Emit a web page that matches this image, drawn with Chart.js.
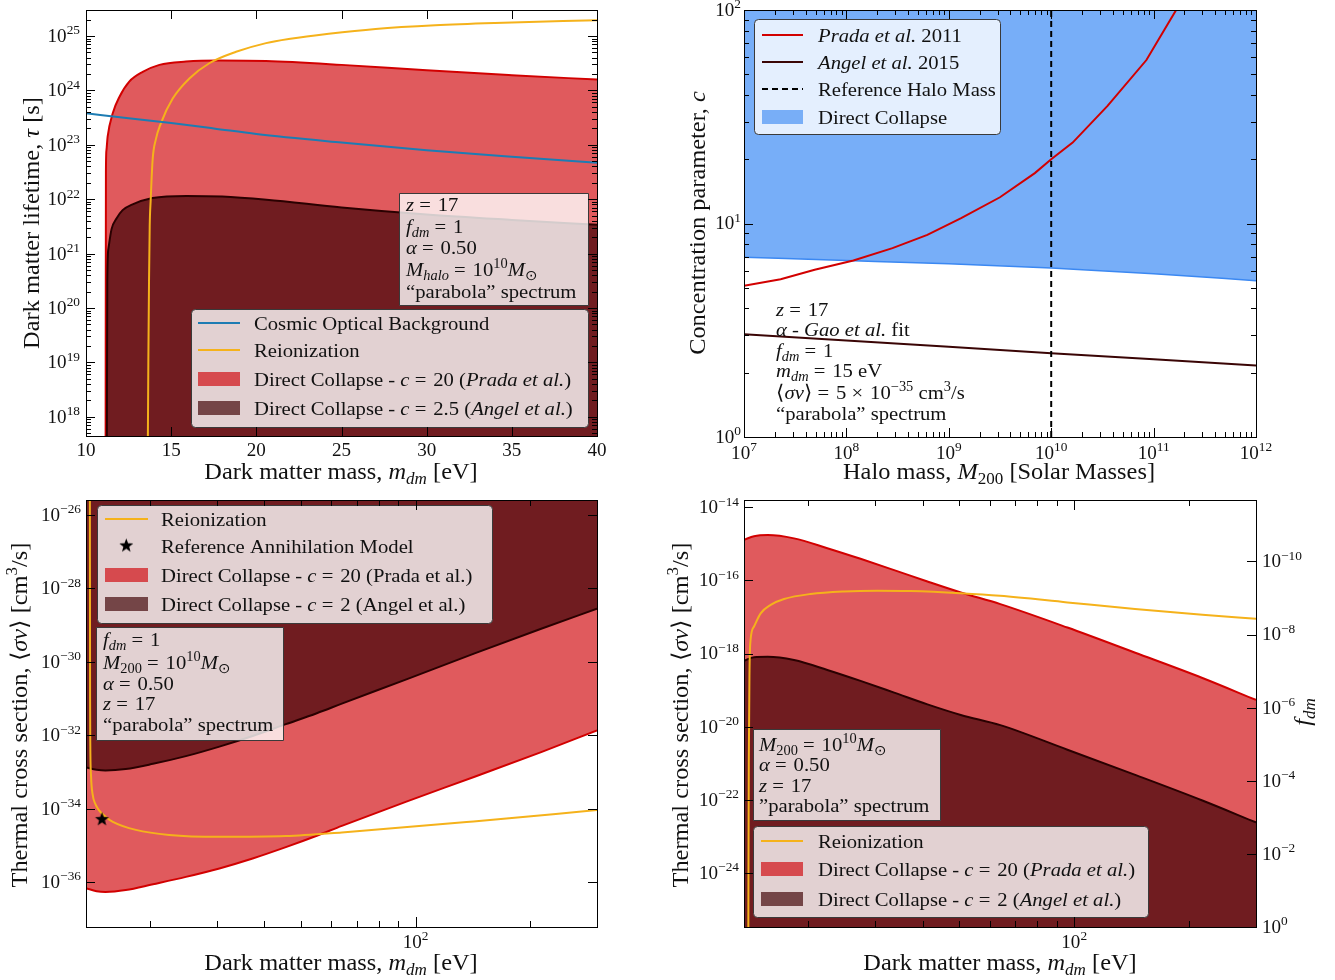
<!DOCTYPE html>
<html><head><meta charset="utf-8">
<script src="https://cdn.jsdelivr.net/npm/chart.js@4.4.1/dist/chart.umd.min.js"></script>
<style>
html,body{margin:0;padding:0;background:#fff;}
body{width:1335px;height:980px;position:relative;overflow:hidden;}
canvas{position:absolute;}
</style></head>
<body>
<canvas id="tl" width="665" height="490" style="left:0;top:0"></canvas>
<canvas id="tr" width="670" height="490" style="left:665px;top:0"></canvas>
<canvas id="bl" width="665" height="490" style="left:0;top:490px"></canvas>
<canvas id="br" width="670" height="490" style="left:665px;top:490px"></canvas>
<script>
// ======================= DATA =======================
// --- Top-left: dark matter lifetime vs mass ---
const tlMassPrada = [11.15, 11.17, 11.2, 11.27, 11.57, 11.96, 12.54, 13.33, 14.31, 15.87, 17.83, 20.57, 25, 30, 35, 40];
const tlTauPrada  = [1e17, 3.16e22, 7.94e22, 1.41e23, 3.80e23, 7.59e23, 1.45e24, 2.19e24, 2.95e24, 3.39e24, 3.55e24, 3.47e24, 2.95e24, 2.34e24, 1.91e24, 1.58e24];
const tlMassAngel = [11.22, 11.25, 11.32, 11.5, 11.8, 12.15, 12.7, 13.9, 15.9, 18, 20.6, 25, 30, 35, 40];
const tlTauAngel  = [1e17, 3.16e20, 1.26e21, 2.82e21, 4.47e21, 6.31e21, 7.94e21, 1.05e22, 1.15e22, 1.12e22, 9.77e21, 7.08e21, 5.25e21, 4.17e21, 3.39e21];
const tlMassReion = [13.62, 13.66, 13.7, 13.74, 13.8, 13.91, 14.1, 14.4, 15.09, 16.07, 17.24, 18.81, 20.57, 22, 24.25, 27, 30.5, 34, 40];
const tlTauReion  = [1e17, 1e19, 3.16e20, 3.16e21, 1e22, 5.25e22, 1.26e23, 2.51e23, 7.08e23, 1.66e24, 3.16e24, 5.13e24, 7.41e24, 8.91e24, 1.10e25, 1.35e25, 1.58e25, 1.74e25, 1.95e25];
const tlMassCOB   = [10, 12.5, 15, 17.5, 20, 25, 30, 35, 40];
const tlTauCOB    = [3.80e23, 3.09e23, 2.51e23, 2.00e23, 1.58e23, 1.10e23, 7.94e22, 6.03e22, 4.68e22];
const tlXTicks = [10, 15, 20, 25, 30, 35, 40];
const tlXTickLabels = ['10', '15', '20', '25', '30', '35', '40'];
const tlYTicks = [1e18, 1e19, 1e20, 1e21, 1e22, 1e23, 1e24, 1e25];
const tlYTickLabels = ['10^{18}', '10^{19}', '10^{20}', '10^{21}', '10^{22}', '10^{23}', '10^{24}', '10^{25}'];
const tlLegendLabels = ['Cosmic Optical Background', 'Reionization', 'Direct Collapse - *c* = 20 (*Prada et al.*)', 'Direct Collapse - *c* = 2.5 (*Angel et al.*)'];
const tlBoxLines = ['*z* = 17', '*f*_{*dm*} = 1', '*α* = 0.50', '*M*_{*halo*} = 10^{10}*M*_{⊙}', '“parabola” spectrum'];

// --- Top-right: concentration parameter vs halo mass ---
const trMassPrada = [1e7, 2.28e7, 4.90e7, 1.17e8, 2.82e8, 6.17e8, 1.32e9, 3.16e9, 6.92e9, 1e10, 1.62e10, 3.55e10, 8.51e10, 1.66e11, 2.51e11];
const trCPrada    = [5.11, 5.48, 6.07, 6.71, 7.67, 8.85, 10.59, 13.27, 17.22, 20.0, 23.93, 35.56, 58.3, 100, 134.9];
const trMassAngel = [1e7, 1e8, 1e9, 1e10, 1e11, 1e12];
const trCAngel    = [3.03, 2.83, 2.65, 2.47, 2.31, 2.16];
const trMassDC    = [1e7, 1e8, 1e9, 1e10, 1e11, 1e12];
const trCDC       = [6.95, 6.71, 6.47, 6.18, 5.81, 5.40];
const trRefMass   = [1e10, 1e10];
const trRefC      = [1, 100];
const trXTicks = [1e7, 1e8, 1e9, 1e10, 1e11, 1e12];
const trXTickLabels = ['10^{7}', '10^{8}', '10^{9}', '10^{10}', '10^{11}', '10^{12}'];
const trYTicks = [1, 10, 100];
const trYTickLabels = ['10^{0}', '10^{1}', '10^{2}'];
const trLegendLabels = ['*Prada et al.* 2011', '*Angel et al.* 2015', 'Reference Halo Mass', 'Direct Collapse'];
const trNoteLines = ['*z* = 17', '*α* - *Gao et al.* fit', '*f*_{*dm*} = 1', '*m*_{*dm*} = 15 eV', '⟨*σv*⟩ = 5 × 10^{−35} cm^{3}/s', '“parabola” spectrum'];

// --- Bottom-left: thermal cross section vs mass ---
const blMass      = [13.6, 14.5, 15.3, 17.3, 20.4, 24.9, 30.5, 37.3, 45.6, 55, 64, 95, 143, 214, 300];
const blSvPrada   = [6.76e-37, 5.62e-37, 5.37e-37, 6.03e-37, 8.71e-37, 1.38e-36, 2.34e-36, 4.37e-36, 8.91e-36, 1.82e-35, 3.39e-35, 1.58e-34, 7.41e-34, 3.47e-33, 1.35e-32];
const blSvAngel   = [1.32e-33, 1.15e-33, 1.10e-33, 1.20e-33, 1.66e-33, 2.69e-33, 4.90e-33, 9.55e-33, 2.00e-32, 3.98e-32, 7.24e-32, 3.39e-31, 1.70e-30, 7.94e-30, 2.82e-29];
const blMassReion = [13.92, 13.94, 13.96, 14.02, 14.15, 14.4, 14.7, 15.3, 16.0, 18.4, 22.5, 30.5, 45.6, 64, 142, 300];
const blSvReion   = [1e-25, 1e-31, 5.01e-33, 7.94e-34, 2.51e-34, 1.32e-34, 9.12e-35, 6.03e-35, 4.37e-35, 2.63e-35, 1.91e-35, 1.70e-35, 1.78e-35, 2.24e-35, 4.47e-35, 9.12e-35];
const blRefMass   = [15];
const blRefSv     = [5e-35];
const blXTicks = [100];
const blXTickLabels = ['10^{2}'];
const blXMinor = [20, 30, 40, 50, 60, 70, 80, 90, 200];
const blYTicks = [1e-36, 1e-34, 1e-32, 1e-30, 1e-28, 1e-26];
const blYTickLabels = ['10^{−36}', '10^{−34}', '10^{−32}', '10^{−30}', '10^{−28}', '10^{−26}'];
const blLegendLabels = ['Reionization', 'Reference Annihilation Model', 'Direct Collapse - *c* = 20 (Prada et al.)', 'Direct Collapse - *c* = 2 (Angel et al.)'];
const blBoxLines = ['*f*_{*dm*} = 1', '*M*_{200} = 10^{10}*M*_{⊙}', '*α* = 0.50', '*z* = 17', '“parabola” spectrum'];

// --- Bottom-right: thermal cross section (left) and f_dm (right) vs mass ---
const brMass      = [13.6, 14.45, 15.7, 18.4, 22.5, 27.5, 33.7, 41.2, 50.4, 64, 96, 144.6, 217, 300];
const brSvPrada   = [1.29e-15, 1.62e-15, 1.74e-15, 1.41e-15, 7.59e-16, 3.89e-16, 1.91e-16, 9.33e-17, 4.68e-17, 2.24e-17, 5.13e-18, 1.05e-18, 2.14e-19, 5.37e-20];
const brSvAngel   = [6.31e-19, 7.94e-19, 8.13e-19, 6.61e-19, 3.55e-19, 1.78e-19, 8.51e-20, 4.07e-20, 2.09e-20, 1.10e-20, 2.34e-21, 4.79e-22, 9.55e-23, 2.40e-23];
const brMassReion = [13.96, 14.0, 14.06, 14.15, 14.45, 15.04, 15.98, 17.32, 20.35, 24.9, 30.4, 37.2, 50.4, 63.9, 96, 144.4, 217, 300];
const brFdmReion  = [1.5, 3.16e-5, 1e-7, 1.41e-8, 6.03e-9, 2.63e-9, 1.55e-9, 1.07e-9, 7.76e-10, 6.61e-10, 6.31e-10, 6.46e-10, 7.41e-10, 8.71e-10, 1.32e-9, 2.0e-9, 2.88e-9, 3.72e-9];
const brXTicks = [100];
const brXTickLabels = ['10^{2}'];
const brXMinor = [20, 30, 40, 50, 60, 70, 80, 90, 200];
const brYTicks = [1e-24, 1e-22, 1e-20, 1e-18, 1e-16, 1e-14];
const brYTickLabels = ['10^{−24}', '10^{−22}', '10^{−20}', '10^{−18}', '10^{−16}', '10^{−14}'];
const brY2Ticks = [1, 1e-2, 1e-4, 1e-6, 1e-8, 1e-10];
const brY2TickLabels = ['10^{0}', '10^{−2}', '10^{−4}', '10^{−6}', '10^{−8}', '10^{−10}'];
const brLegendLabels = ['Reionization', 'Direct Collapse - *c* = 20 (*Prada et al.*)', 'Direct Collapse - *c* = 2 (*Angel et al.*)'];
const brBoxLines = ['*M*_{200} = 10^{10}*M*_{⊙}', '*α* = 0.50', '*z* = 17', '”parabola” spectrum'];

// ======================= STYLE =======================
const COL = {
  redFill: '#e05a5d', redLine: '#d20000', redSwatch: '#d64a4e',
  darkFill: '#701c20', darkLine: '#2a0000', darkSwatch: '#744547',
  yellow: '#f5b21b', cob: '#1d7cb3',
  blueFill: '#77aef8', blueLine: '#3b88f2', blueSwatch: '#78aef7',
  angelLine: '#3a0505'
};
const SERIF = '"Liberation Serif","Times New Roman",serif';
const FS_TITLE = 23, FS_TICK = 18, FS_LEG = 19.5;
const HS = 1.06; // horizontal stretch to approximate Computer Modern proportions

// ======================= HELPERS =======================
function pts(xs, ys) { return xs.map((x, i) => ({x: x, y: ys[i]})); }
function fnt(size, it) { return (it ? 'italic ' : '') + size.toFixed(1) + 'px ' + SERIF; }
function parseRich(s) {
  s = s.replace(/ = /g, ' =\u200A ').replace(/ × /g, ' ×\u200A ');
  const runs = []; let it = false; const st = [0]; let buf = '';
  const flush = () => { if (buf) { runs.push({t: buf, it: it, lv: st[st.length - 1]}); buf = ''; } };
  for (let i = 0; i < s.length; i++) {
    const ch = s[i];
    if (ch === '*') { flush(); it = !it; }
    else if ((ch === '_' || ch === '^') && s[i + 1] === '{') { flush(); st.push(ch === '_' ? -1 : 1); i++; }
    else if (ch === '}' && st.length > 1) { flush(); st.pop(); }
    else buf += ch;
  }
  flush(); return runs;
}
function richWidth(ctx, runs, size) {
  let w = 0;
  for (const r of runs) { ctx.font = fnt(r.lv ? size * 0.7 : size, r.it); w += ctx.measureText(r.t).width * HS; }
  return w;
}
function drawRich(ctx, s, x, y, size, align, color) {
  const runs = parseRich(s);
  const w = richWidth(ctx, runs, size);
  let cx = align === 'center' ? x - w / 2 : align === 'right' ? x - w : x;
  ctx.fillStyle = color || '#111'; ctx.textAlign = 'left'; ctx.textBaseline = 'alphabetic';
  for (const r of runs) {
    const sz = r.lv ? size * 0.7 : size;
    ctx.font = fnt(sz, r.it);
    const dy = r.lv < 0 ? size * 0.22 : r.lv > 0 ? -size * 0.42 : 0;
    ctx.save(); ctx.translate(cx, y + dy); ctx.scale(HS, 1);
    ctx.fillText(r.t, 0, 0); ctx.restore();
    cx += ctx.measureText(r.t).width * HS;
  }
  return w;
}
function drawRichRot(ctx, s, x, y, size) {
  ctx.save(); ctx.translate(x, y); ctx.rotate(-Math.PI / 2);
  drawRich(ctx, s, 0, 0, size, 'center'); ctx.restore();
}
function logMinors(lo, hi) {
  const out = [];
  for (let d = lo; d <= hi; d++) for (let k = 2; k <= 9; k++) out.push(k * Math.pow(10, d));
  return out;
}
function makeStar(r) {
  const c = document.createElement('canvas'); c.width = c.height = Math.ceil(2 * r + 2);
  const g = c.getContext('2d'); g.beginPath();
  for (let i = 0; i < 10; i++) {
    const a = -Math.PI / 2 + i * Math.PI / 5; const rr = i % 2 ? r * 0.42 : r;
    g.lineTo(r + 1 + rr * Math.cos(a), r + 1 + rr * Math.sin(a));
  }
  g.closePath(); g.fillStyle = '#000'; g.fill(); return c;
}
const STAR = makeStar(7.3);

function box(ctx, x1, y1, x2, y2, rounded) {
  ctx.save();
  ctx.beginPath();
  if (rounded && ctx.roundRect) ctx.roundRect(x1 + 0.5, y1 + 0.5, x2 - x1, y2 - y1, 4);
  else ctx.rect(x1 + 0.5, y1 + 0.5, x2 - x1, y2 - y1);
  ctx.fillStyle = 'rgba(255,255,255,0.8)'; ctx.fill();
  ctx.strokeStyle = '#3a3a3a'; ctx.lineWidth = 1; ctx.stroke();
  ctx.restore();
}
function legend(ctx, spec) {
  box(ctx, spec.box[0], spec.box[1], spec.box[2], spec.box[3], true);
  for (const r of spec.rows) {
    ctx.save();
    if (r.kind === 'line') {
      ctx.strokeStyle = r.color; ctx.lineWidth = 2; ctx.setLineDash(r.dash || []);
      ctx.beginPath(); ctx.moveTo(spec.sx1, r.y); ctx.lineTo(spec.sx2, r.y); ctx.stroke();
    } else if (r.kind === 'patch') {
      ctx.fillStyle = r.color; ctx.fillRect(spec.sx1, r.y - 7, spec.sx2 - spec.sx1, 14);
    } else if (r.kind === 'star') {
      ctx.drawImage(STAR, (spec.sx1 + spec.sx2) / 2 - STAR.width / 2, r.y - STAR.height / 2);
    }
    ctx.restore();
    drawRich(ctx, r.label, spec.tx, r.y + 6.5, FS_LEG);
  }
}
function textLines(ctx, lines, x, ys, size) {
  lines.forEach((l, i) => drawRich(ctx, l, x, ys[i], size));
}
function frameAndTicks(chart, spec) {
  const ctx = chart.ctx, a = chart.chartArea;
  ctx.save(); ctx.strokeStyle = '#000'; ctx.lineWidth = 1;
  const ln = (x1, y1, x2, y2) => { ctx.beginPath(); ctx.moveTo(x1, y1); ctx.lineTo(x2, y2); ctx.stroke(); };
  for (const t of spec.ticks) {
    const sc = chart.scales[t.axis];
    for (const v of t.vals) {
      const p = Math.round(sc.getPixelForValue(v)) + 0.5;
      if (t.axis === 'x') {
        if (p < a.left + 1 || p > a.right - 1) continue;
        if (t.sides.includes('b')) ln(p, a.bottom, p, a.bottom - t.len);
        if (t.sides.includes('t')) ln(p, a.top, p, a.top + t.len);
      } else {
        if (p < a.top + 1 || p > a.bottom - 1) continue;
        if (t.sides.includes('l')) ln(a.left, p, a.left + t.len, p);
        if (t.sides.includes('r')) ln(a.right, p, a.right - t.len, p);
      }
    }
  }
  ctx.strokeRect(Math.round(a.left) + 0.5, Math.round(a.top) + 0.5, Math.round(a.right - a.left), Math.round(a.bottom - a.top));
  ctx.restore();
  for (const L of spec.labels) {
    const sc = chart.scales[L.axis];
    L.vals.forEach((v, i) => {
      const p = sc.getPixelForValue(v);
      if (L.axis === 'x') drawRich(ctx, L.text[i], p, a.bottom + L.off, FS_TICK, 'center');
      else if (L.side === 'r') drawRich(ctx, L.text[i], a.right + L.off, p + FS_TICK * 0.33, FS_TICK, 'left');
      else drawRich(ctx, L.text[i], a.left - L.off, p + FS_TICK * 0.33, FS_TICK, 'right');
    });
  }
}
function baseOptions(pad, scales) {
  for (const k in scales) scales[k].display = false;
  return {
    responsive: false, animation: false, devicePixelRatio: 1, events: [],
    layout: {padding: pad},
    plugins: {legend: {display: false}, tooltip: {enabled: false}},
    elements: {point: {radius: 0, hoverRadius: 0}, line: {cubicInterpolationMode: 'monotone', borderWidth: 2}},
    scales: scales
  };
}
function decoPlugin(fn) { return {id: 'deco', afterDraw: (chart) => fn(chart, chart.ctx, chart.chartArea)}; }

// ======================= TOP-LEFT =======================
new Chart(document.getElementById('tl'), {
  type: 'line',
  data: {datasets: [
    {data: pts(tlMassCOB, tlTauCOB), borderColor: COL.cob, fill: false, order: 0},
    {data: pts(tlMassReion, tlTauReion), borderColor: COL.yellow, fill: false, order: 1},
    {data: pts(tlMassAngel, tlTauAngel), borderColor: COL.darkLine, backgroundColor: COL.darkFill, fill: 'start', order: 2},
    {data: pts(tlMassPrada, tlTauPrada), borderColor: COL.redLine, backgroundColor: COL.redFill, fill: 'start', order: 3}
  ]},
  options: baseOptions({left: 86, top: 10, right: 68, bottom: 54}, {
    x: {type: 'linear', min: 10, max: 40},
    y: {type: 'logarithmic', min: 4.44e17, max: 3.01e25}
  }),
  plugins: [decoPlugin((chart, ctx, a) => {
    box(ctx, 399, 193, 588, 305, false);
    textLines(ctx, tlBoxLines, 406, [211, 233, 254, 276, 298], FS_LEG);
    legend(ctx, {box: [191, 309, 588, 427], sx1: 198, sx2: 240, tx: 254, rows: [
      {y: 323, kind: 'line', color: COL.cob, label: tlLegendLabels[0]},
      {y: 350, kind: 'line', color: COL.yellow, label: tlLegendLabels[1]},
      {y: 379, kind: 'patch', color: COL.redSwatch, label: tlLegendLabels[2]},
      {y: 408, kind: 'patch', color: COL.darkSwatch, label: tlLegendLabels[3]}
    ]});
    frameAndTicks(chart, {
      ticks: [
        {axis: 'x', vals: tlXTicks, len: 9, sides: 'bt'},
        {axis: 'y', vals: tlYTicks, len: 9, sides: 'lr'},
        {axis: 'y', vals: logMinors(17, 25), len: 5, sides: 'lr'}
      ],
      labels: [
        {axis: 'x', vals: tlXTicks, text: tlXTickLabels, off: 20},
        {axis: 'y', vals: tlYTicks, text: tlYTickLabels, off: 6}
      ]
    });
    drawRich(ctx, 'Dark matter mass, *m*_{*dm*} [eV]', 341, 479, FS_TITLE, 'center');
    drawRichRot(ctx, 'Dark matter lifetime, *τ* [s]', 39, 223, FS_TITLE);
  })]
});

// ======================= TOP-RIGHT =======================
new Chart(document.getElementById('tr'), {
  type: 'line',
  data: {datasets: [
    {data: pts(trRefMass, trRefC), borderColor: '#000', borderDash: [6, 4], borderWidth: 2, fill: false, cubicInterpolationMode: 'default', tension: 0, order: 0},
    {data: pts(trMassPrada, trCPrada), borderColor: COL.redLine, fill: false, cubicInterpolationMode: 'default', tension: 0, order: 1},
    {data: pts(trMassAngel, trCAngel), borderColor: COL.angelLine, fill: false, tension: 0, cubicInterpolationMode: 'default', order: 2},
    {data: pts(trMassDC, trCDC), borderColor: COL.blueLine, borderWidth: 1.5, backgroundColor: COL.blueFill, fill: 'end', order: 3}
  ]},
  options: baseOptions({left: 79, top: 10, right: 79, bottom: 53}, {
    x: {type: 'logarithmic', min: 1e7, max: 1e12},
    y: {type: 'logarithmic', min: 1, max: 100}
  }),
  plugins: [decoPlugin((chart, ctx, a) => {
    legend(ctx, {box: [89, 19, 335, 134], sx1: 97, sx2: 138, tx: 153, rows: [
      {y: 35, kind: 'line', color: COL.redLine, label: trLegendLabels[0]},
      {y: 62, kind: 'line', color: COL.angelLine, label: trLegendLabels[1]},
      {y: 89, kind: 'line', color: '#000', dash: [6, 4], label: trLegendLabels[2]},
      {y: 117, kind: 'patch', color: COL.blueSwatch, label: trLegendLabels[3]}
    ]});
    textLines(ctx, trNoteLines, 111, [316, 336, 357, 377, 399, 420], FS_LEG);
    frameAndTicks(chart, {
      ticks: [
        {axis: 'x', vals: trXTicks, len: 9, sides: 'bt'},
        {axis: 'x', vals: logMinors(7, 11), len: 5, sides: 'bt'},
        {axis: 'y', vals: trYTicks, len: 9, sides: 'lr'},
        {axis: 'y', vals: logMinors(0, 1), len: 5, sides: 'lr'}
      ],
      labels: [
        {axis: 'x', vals: trXTicks, text: trXTickLabels, off: 22},
        {axis: 'y', vals: trYTicks, text: trYTickLabels, off: 3}
      ]
    });
    drawRich(ctx, 'Halo mass, *M*_{200} [Solar Masses]', 334, 479, FS_TITLE, 'center');
    drawRichRot(ctx, 'Concentration parameter, *c*', 40, 223, FS_TITLE);
  })]
});

// ======================= BOTTOM-LEFT =======================
new Chart(document.getElementById('bl'), {
  type: 'line',
  data: {datasets: [
    {type: 'scatter', data: pts(blRefMass, blRefSv), pointStyle: STAR, pointRadius: 8, order: 0},
    {data: pts(blMassReion, blSvReion), borderColor: COL.yellow, fill: false, order: 1},
    {data: pts(blMass, blSvAngel), borderColor: COL.darkLine, backgroundColor: COL.darkFill, fill: 'end', order: 2},
    {data: pts(blMass, blSvPrada), borderColor: COL.redLine, backgroundColor: COL.redFill, fill: 'end', order: 3}
  ]},
  options: baseOptions({left: 86, top: 10, right: 68, bottom: 53}, {
    x: {type: 'logarithmic', min: 13.6, max: 300},
    y: {type: 'logarithmic', min: 5.94e-38, max: 2.57e-26}
  }),
  plugins: [decoPlugin((chart, ctx, a) => {
    legend(ctx, {box: [97, 15, 492, 133], sx1: 105, sx2: 148, tx: 161, rows: [
      {y: 29, kind: 'line', color: COL.yellow, label: blLegendLabels[0]},
      {y: 56, kind: 'star', label: blLegendLabels[1]},
      {y: 85, kind: 'patch', color: COL.redSwatch, label: blLegendLabels[2]},
      {y: 114, kind: 'patch', color: COL.darkSwatch, label: blLegendLabels[3]}
    ]});
    box(ctx, 96, 137, 283, 250, false);
    textLines(ctx, blBoxLines, 103, [156, 179, 200, 220, 241], FS_LEG);
    frameAndTicks(chart, {
      ticks: [
        {axis: 'x', vals: blXTicks, len: 10, sides: 'bt'},
        {axis: 'x', vals: blXMinor, len: 6, sides: 'bt'},
        {axis: 'y', vals: blYTicks, len: 9, sides: 'lr'}
      ],
      labels: [
        {axis: 'x', vals: blXTicks, text: blXTickLabels, off: 21},
        {axis: 'y', vals: blYTicks, text: blYTickLabels, off: 5}
      ]
    });
    drawRich(ctx, 'Dark matter mass, *m*_{*dm*} [eV]', 341, 480, FS_TITLE, 'center');
    drawRichRot(ctx, 'Thermal cross section, ⟨*σv*⟩ [cm^{3}/s]', 27, 225, FS_TITLE);
  })]
});

// ======================= BOTTOM-RIGHT =======================
new Chart(document.getElementById('br'), {
  type: 'line',
  data: {datasets: [
    {data: pts(brMassReion, brFdmReion), borderColor: COL.yellow, fill: false, yAxisID: 'y2', order: 0},
    {data: pts(brMass, brSvAngel), borderColor: COL.darkLine, backgroundColor: COL.darkFill, fill: 'start', order: 1},
    {data: pts(brMass, brSvPrada), borderColor: COL.redLine, backgroundColor: COL.redFill, fill: 'start', order: 2}
  ]},
  options: baseOptions({left: 79, top: 10, right: 79, bottom: 53}, {
    x: {type: 'logarithmic', min: 13.6, max: 300},
    y: {type: 'logarithmic', min: 3.31e-26, max: 1.58e-14, position: 'left'},
    y2: {type: 'logarithmic', min: 2.09e-12, max: 1, reverse: true, position: 'right'}
  }),
  plugins: [decoPlugin((chart, ctx, a) => {
    box(ctx, 88, 239, 275, 330, false);
    textLines(ctx, brBoxLines, 94, [261, 281, 302, 322], FS_LEG);
    legend(ctx, {box: [88, 336, 483, 427], sx1: 96, sx2: 138, tx: 153, rows: [
      {y: 351, kind: 'line', color: COL.yellow, label: brLegendLabels[0]},
      {y: 379, kind: 'patch', color: COL.redSwatch, label: brLegendLabels[1]},
      {y: 409, kind: 'patch', color: COL.darkSwatch, label: brLegendLabels[2]}
    ]});
    frameAndTicks(chart, {
      ticks: [
        {axis: 'x', vals: brXTicks, len: 10, sides: 'bt'},
        {axis: 'x', vals: brXMinor, len: 6, sides: 'bt'},
        {axis: 'y', vals: brYTicks, len: 9, sides: 'l'},
        {axis: 'y2', vals: brY2Ticks, len: 9, sides: 'r'}
      ],
      labels: [
        {axis: 'x', vals: brXTicks, text: brXTickLabels, off: 21},
        {axis: 'y', vals: brYTicks, text: brYTickLabels, off: 5},
        {axis: 'y2', vals: brY2Ticks, text: brY2TickLabels, off: 6, side: 'r'}
      ]
    });
    drawRich(ctx, 'Dark matter mass, *m*_{*dm*} [eV]', 335, 480, FS_TITLE, 'center');
    drawRichRot(ctx, 'Thermal cross section, ⟨*σv*⟩ [cm^{3}/s]', 23, 225, FS_TITLE);
    drawRichRot(ctx, '*f*_{*dm*}', 645, 222, FS_TITLE);
  })]
});
</script>
</body></html>
